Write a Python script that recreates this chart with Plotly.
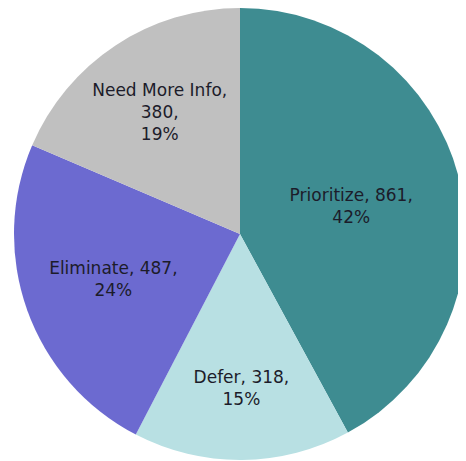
import plotly.graph_objects as go

# Slice data, clockwise from 12 o'clock
categories = ['Prioritize', 'Defer', 'Eliminate', 'Need More Info']
counts = [861, 318, 487, 380]
percents = [42, 15, 24, 19]
label_breaks = [' ', ' ', ' ', '<br>']

colors = ['#3e8c91', '#b8e0e3', '#6c6ad0', '#c0c0c0']

# Build the slice labels
slice_text = [
    f"{c},{b}{n},<br>{p}%"
    for c, n, p, b in zip(categories, counts, percents, label_breaks)
]

fig = go.Figure(
    go.Pie(
        labels=categories,
        values=counts,
        text=slice_text,
        textinfo='text',
        textposition='inside',
        insidetextorientation='horizontal',
        sort=False,
        direction='clockwise',
        rotation=0,
        marker=dict(colors=colors, line=dict(width=0)),
        textfont=dict(family='DejaVu Sans', size=17, color='#1c1c2a'),
        # page body adds an 8px offset, so the domain is shifted up/left
        domain=dict(x=[6 / 466, 458 / 466], y=[1 - 452 / 461, 1]),
        showlegend=False,
        hoverinfo='label+value+percent'
    )
)

fig.update_layout(
    width=466,
    height=461,
    margin=dict(l=0, r=0, t=0, b=0),
    paper_bgcolor='white',
    plot_bgcolor='white'
)

fig.write_html("out.html")
